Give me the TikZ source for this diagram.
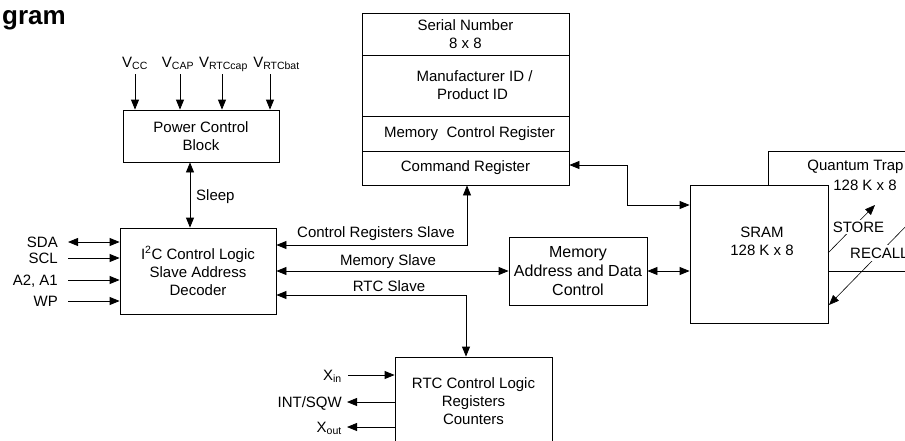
\documentclass[tikz,border=0pt]{standalone}
\usepackage{fontspec}
\setmainfont{Liberation Sans}
\usetikzlibrary{arrows.meta}
\begin{document}
\begin{tikzpicture}[x=1pt,y=-1pt,
  every node/.style={font=\fontsize{15}{18}\selectfont, inner sep=0pt},
  box/.style={draw, line width=0.8pt, fill=white, align=center},
  lbl/.style={align=center},
  arr/.style={line width=0.8pt, -{Triangle[length=10pt,width=8pt]}},
  dbl/.style={line width=0.8pt, {Triangle[length=10pt,width=8pt]}-{Triangle[length=10pt,width=8pt]}},
  thinarr/.style={line width=0.6pt, -{Triangle[length=10pt,width=8pt]}},
  lab/.style={fill=white, inner sep=2pt},
]
\useasboundingbox (0,0) rectangle (905,440);
\clip (0,0) rectangle (905,440);

% title
\node[font=\fontsize{26}{30}\selectfont\bfseries, anchor=base east] (title) at (66,24) {gram};

% power control
\node[box, minimum width=156pt, minimum height=52pt] (pwr) at (201,136) {Power Control\\Block};
\node[anchor=base] (vcc) at (135,67) {V\textsubscript{CC}};
\node[anchor=base] (vcap) at (178,67) {V\textsubscript{CAP}};
\node[anchor=base] (vrtccap) at (223.5,67) {V\textsubscript{RTCcap}};
\node[anchor=base] (vrtcbat) at (276.5,67) {V\textsubscript{RTCbat}};
\coordinate (p1) at (135,74);
\coordinate (p2) at (180,74);
\coordinate (p3) at (222,74);
\coordinate (p4) at (270,74);
\draw[arr] (p1) -- (p1 |- pwr.north);
\draw[arr] (p2) -- (p2 |- pwr.north);
\draw[arr] (p3) -- (p3 |- pwr.north);
\draw[arr] (p4) -- (p4 |- pwr.north);

% I2C
\node[box, minimum width=156pt, minimum height=86pt] (i2c) at (198,271) {I\textsuperscript{2}C Control Logic\\Slave Address\\Decoder};
\coordinate (sl) at (190,200);
\draw[dbl] (sl |- pwr.south) -- (sl |- i2c.north);
\node[anchor=west] (sleep) at (196,197) {Sleep};

\node[anchor=base east] (sda) at (58,247.5) {SDA};
\node[anchor=base east] (scl) at (58,263.5) {SCL};
\node[anchor=base east] (a2a1) at (58,285.5) {A2, A1};
\node[anchor=base east] (wp) at (58,306.5) {WP};
\coordinate (l1) at (68,242);
\coordinate (l2) at (68,258);
\coordinate (l3) at (68,280);
\coordinate (l4) at (68,301);
\draw[dbl] (l1) -- (l1 -| i2c.west);
\draw[arr] (l2) -- (l2 -| i2c.west);
\draw[arr] (l3) -- (l3 -| i2c.west);
\draw[arr] (l4) -- (l4 -| i2c.west);

% serial number stack
\node[box, minimum width=207pt, minimum height=42pt] (sr1) at (465.5,34) {Serial Number\\8 x 8};
\node[box, minimum width=207pt, minimum height=61pt] (sr2) at (465.5,85.5) {\hspace*{18pt}Manufacturer ID /\\\hspace*{14pt}Product ID};
\node[box, minimum width=207pt, minimum height=35pt] (sr3) at (465.5,133.5) {\hspace*{8pt}Memory~~Control Register};
\node[box, minimum width=207pt, minimum height=34pt] (sr4) at (465.5,168) {Command Register};

% memory address box
\node[box, font=\fontsize{16}{19}\selectfont, minimum width=138pt, minimum height=68pt] (mad) at (578,271) {Memory\\Address and Data\\Control};

% slave buses
\coordinate (c1) at (467,245);
\draw[dbl] (sr4.south -| c1) -- (c1) -- (c1 -| i2c.east);
\node (crs) at (376,234) {Control Registers Slave};
\draw[dbl] (mad.west) -- (mad.west -| i2c.east);
\node (ms) at (388,262) {Memory Slave};

% quantum trap
\node[draw, line width=0.8pt, minimum width=232pt, minimum height=120pt] (qt) at (884,211) {};
\node (qtt) at (855.5,167) {Quantum Trap};
\node (qts) at (865,185) {128 K x 8};

% SRAM
\node[box, minimum width=138pt, minimum height=138pt] (sram) at (759,254) {};
\node[align=center] (sramt) at (762,241) {SRAM\\128 K x 8};

\coordinate (k1) at (627,165);
\coordinate (k2) at (627,205);
\draw[dbl] (sr4.east |- k1) -- (k1) -- (k2) -- (k2 -| sram.west);
\draw[dbl] (mad.east) -- (mad.east -| sram.west);

% store / recall
\coordinate (s1) at (828,253);
\coordinate (s2) at (875,205);
\draw[thinarr] (s1) -- (s2);
\node[lab] (store) at (858.5,227) {STORE};
\coordinate (r1) at (912,220);
\coordinate (r2) at (829,305);
\draw[thinarr] (r1) -- (r2);
\node[lab, anchor=west, inner sep=3pt] (recall) at (847,253) {RECALL};

% RTC
\node[box, minimum width=157pt, minimum height=88pt] (rtc) at (473.5,401) {RTC Control Logic\\Registers\\Counters};
\coordinate (r0) at (466,295);
\draw[dbl] (r0 -| i2c.east) -- (r0) -- (r0 |- rtc.north);
\node (rs) at (389,286) {RTC Slave};

\node[anchor=base east] (xin) at (342,380) {X\textsubscript{in}};
\node[anchor=base east] (intsqw) at (342,407.5) {INT/SQW};
\node[anchor=base east] (xout) at (342,432) {X\textsubscript{out}};
\coordinate (x1) at (348,375);
\coordinate (x2) at (347,402);
\coordinate (x3) at (347,427);
\draw[arr] (x1) -- (x1 -| rtc.west);
\draw[arr] (x2 -| rtc.west) -- (x2);
\draw[arr] (x3 -| rtc.west) -- (x3);
\end{tikzpicture}
\end{document}
